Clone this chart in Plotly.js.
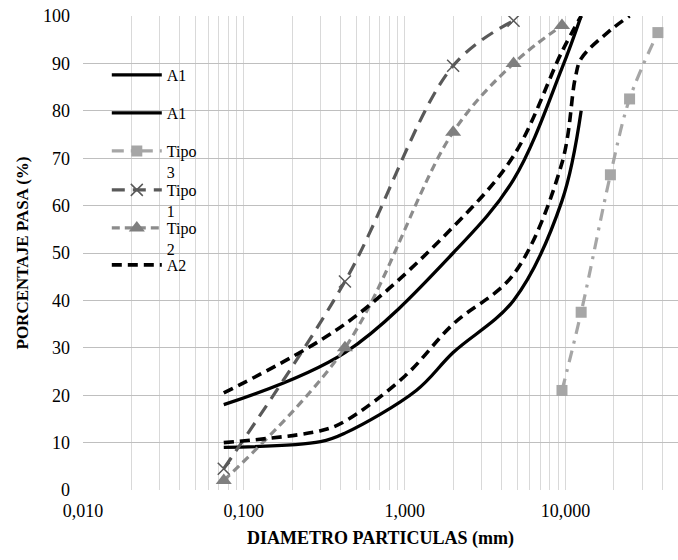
<!DOCTYPE html>
<html>
<head>
<meta charset="utf-8">
<script src="https://cdn.plot.ly/plotly-3.0.1.min.js"></script>
<style>
  html, body { margin: 0; padding: 0; background: #fff; }
  #chart { width: 678px; height: 560px; }
</style>
</head>
<body>
<div id="chart"></div>
<script>
// Grading curves: percent passing vs particle diameter (mm)
const a1UpperX = [0.075, 0.425, 2, 4.75, 9.5, 12.5];
const a1UpperY = [18, 29, 50, 65.5, 89, 100];

const a1LowerX = [0.075, 0.3, 0.425, 1.18, 2, 4.75, 9.5, 12.5];
const a1LowerY = [9, 10.2, 12, 21, 29, 40, 61, 80];

const a2UpperX = [0.075, 0.425, 2, 4.75, 9.5, 12.5];
const a2UpperY = [20.5, 35, 55.5, 70.5, 92.5, 100];

const a2LowerX = [0.075, 0.3, 0.425, 1, 2, 4.75, 9.5, 11.5, 12.5, 19, 25];
const a2LowerY = [10, 12.5, 14.5, 24, 35, 45.5, 69, 87, 91, 97, 100];

const tipo1X = [0.075, 0.425, 2, 4.75];
const tipo1Y = [4.5, 44, 89.5, 99];

const tipo2X = [0.075, 0.425, 2, 4.75, 9.5];
const tipo2Y = [2, 30, 75.5, 90, 98];

const tipo3X = [9.5, 12.5, 19, 25, 37.5];
const tipo3Y = [21, 37.5, 66.5, 82.5, 96.5];

// Axis labels
const xMajorVals = [0.01, 0.1, 1, 10];
const xMajorText = ['0,010', '0,100', '1,000', '10,000'];
const yTickVals = [0, 10, 20, 30, 40, 50, 60, 70, 80, 90, 100];

// Log grid: every 1..9 step of each decade up to 50 mm
const xGridVals = [];
const xGridText = [];
[0.01, 0.1, 1, 10].forEach(function (d) {
  for (let k = 1; k <= 9; k++) {
    const v = +(d * k).toPrecision(3);
    if (v > 50) break;
    xGridVals.push(v);
    const idx = xMajorVals.indexOf(v);
    xGridText.push(idx >= 0 ? xMajorText[idx] : '');
  }
});

const serif = 'Liberation Serif, Times New Roman, serif';

function curve(x, y, name, color, width, dash, legendId, extra) {
  const t = {
    x: x, y: y, name: name, type: 'scatter', mode: 'lines',
    line: { color: color, width: width, dash: dash, shape: 'spline', smoothing: 1 },
    legend: legendId
  };
  return Object.assign(t, extra || {});
}

const traces = [
  curve(a1UpperX, a1UpperY, 'A1', '#000000', 3.3, 'solid', 'legend'),
  curve(a1LowerX, a1LowerY, 'A1', '#000000', 3.3, 'solid', 'legend2'),
  curve(tipo3X, tipo3Y, 'Tipo<br>3', '#a6a6a6', 3.2, '12px,7px,3px,7px', 'legend3', {
    mode: 'lines+markers',
    marker: { symbol: 'square', size: 11, color: '#a6a6a6' }
  }),
  curve(tipo1X, tipo1Y, 'Tipo<br>1', '#595959', 3.2, '13px,8px', 'legend4', {
    mode: 'lines+markers',
    marker: { symbol: 'x-thin', size: 12, color: '#595959', line: { color: '#595959', width: 1.5 } }
  }),
  curve(tipo2X, tipo2Y, 'Tipo<br>2', '#8c8c8c', 3.2, '8px,5px', 'legend5', {
    mode: 'lines+markers',
    marker: { symbol: 'triangle-up', size: 14, color: '#7f7f7f' }
  }),
  curve(a2UpperX, a2UpperY, 'A2', '#000000', 3.6, '10px,6px', 'legend6'),
  curve(a2LowerX, a2LowerY, 'A2', '#000000', 3.6, '10px,6px', 'legend6', { showlegend: false })
];

// One legend per entry so the rows keep an even pitch
const legendRows = [75, 113, 151, 190, 228, 265];
const plotTop = 16, plotBottom = 490;
function legendAt(rowPx) {
  return {
    x: 0.040, xanchor: 'left',
    y: (plotBottom - rowPx + 17) / (plotBottom - plotTop), yanchor: 'top',
    bgcolor: 'rgba(0,0,0,0)', borderwidth: 0,
    font: { family: serif, size: 16, color: '#000' },
    valign: 'top', itemwidth: 50
  };
}

const layout = {
  width: 678, height: 560,
  margin: { l: 83, r: 0, t: plotTop, b: 560 - plotBottom },
  paper_bgcolor: '#ffffff', plot_bgcolor: '#ffffff',
  font: { family: serif, size: 18, color: '#000' },
  xaxis: {
    type: 'log',
    range: [Math.log10(0.01), Math.log10(50)],
    tickmode: 'array', tickvals: xGridVals, ticktext: xGridText,
    showgrid: true, gridcolor: '#d9d9d9', gridwidth: 1,
    zeroline: false, showline: false, ticks: '',
    ticklabelstandoff: 8,
    tickfont: { family: serif, size: 18, color: '#000' },
    title: { text: 'DIAMETRO PARTICULAS (mm)', font: { family: serif, size: 18, color: '#000', weight: 'bold' }, standoff: 11 }
  },
  yaxis: {
    range: [0, 100],
    tickmode: 'array', tickvals: yTickVals,
    showgrid: true, gridcolor: '#bfbfbf', gridwidth: 1,
    zeroline: false, showline: false, ticks: '',
    ticklabelstandoff: 12,
    tickfont: { family: serif, size: 18, color: '#000' },
    title: { text: 'PORCENTAJE PASA (%)', font: { family: serif, size: 17, color: '#000', weight: 'bold' }, standoff: 10 }
  },
  legend: legendAt(legendRows[0]),
  legend2: legendAt(legendRows[1]),
  legend3: legendAt(legendRows[2]),
  legend4: legendAt(legendRows[3]),
  legend5: legendAt(legendRows[4]),
  legend6: legendAt(legendRows[5]),
  showlegend: true
};

Plotly.newPlot('chart', traces, layout, { displayModeBar: false, staticPlot: true });
</script>
</body>
</html>
